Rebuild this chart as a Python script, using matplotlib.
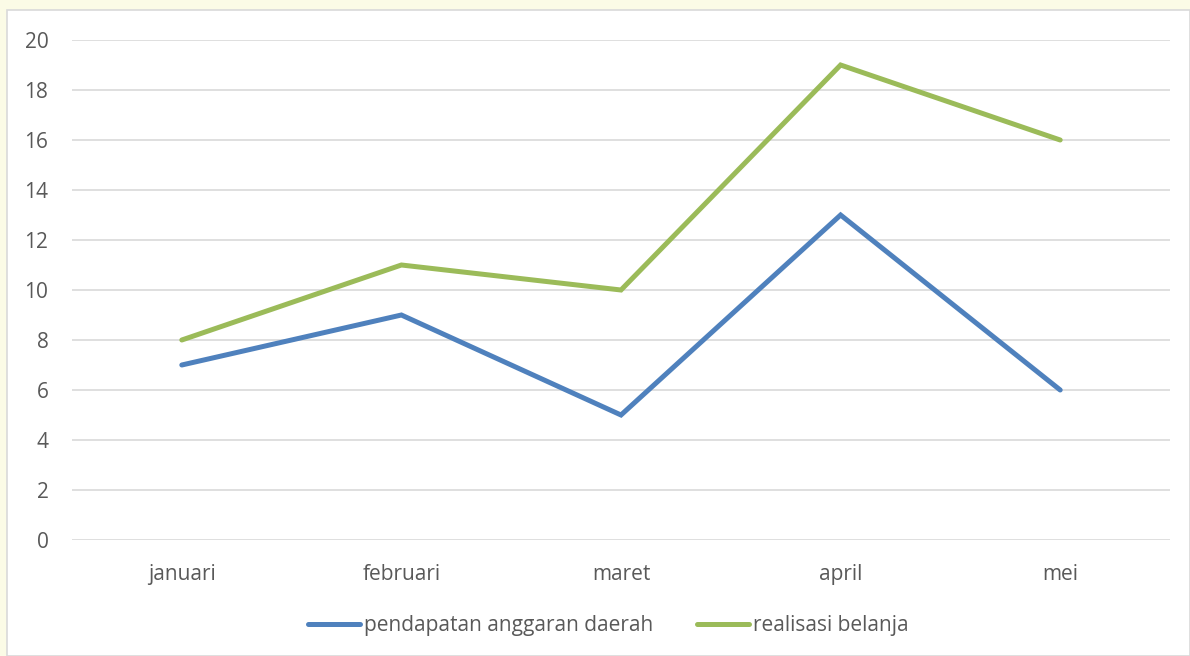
import matplotlib
matplotlib.use("Agg")
import matplotlib.pyplot as plt
from matplotlib.patches import Rectangle

months = ["januari", "februari", "maret", "april", "mei"]
pendapatan = [7, 9, 5, 13, 6]
realisasi = [8, 11, 10, 19, 16]
yticks = [0, 2, 4, 6, 8, 10, 12, 14, 16, 18, 20]

plt.rcParams['font.family'] = ['Open Sans', 'DejaVu Sans']

W, H = 1190, 656
FS = 15
fig = plt.figure(figsize=(W/100, H/100), dpi=100)
fig.patch.set_facecolor('#fbfbe6')

# chart area border
fig.patches.append(Rectangle((7/W, 0), 1 - 7/W, 1 - 10/H, transform=fig.transFigure,
                             facecolor='white', edgecolor='#d9d9d9', linewidth=1.2, zorder=-1))

ax = fig.add_axes([72/W, 1 - 540/H, (1170-72)/W, (540-40)/H])
ax.set_facecolor('none')
x = list(range(len(months)))
ax.plot(x, pendapatan, color='#4f81bd', lw=3.6, solid_capstyle='round', solid_joinstyle='miter',
        label='pendapatan anggaran daerah', zorder=3)
ax.plot(x, realisasi, color='#9bbb59', lw=3.6, solid_capstyle='round', solid_joinstyle='miter',
        label='realisasi belanja', zorder=3)

ax.set_xlim(-0.5, len(months) - 0.5)
ax.set_ylim(0, 20)
ax.set_yticks(yticks)
ax.set_xticks(x)
ax.set_xticklabels(months)
ax.grid(axis='y', color='#d9d9d9', lw=1.2)
ax.set_axisbelow(True)
for s in ax.spines.values():
    s.set_visible(False)
ax.tick_params(axis='both', length=0, labelsize=FS, colors='#595959')
ax.tick_params(axis='y', pad=17)
ax.tick_params(axis='x', pad=17)

leg = fig.legend(loc='center', bbox_to_anchor=(608.5/W, 1 - 626/H), ncol=2, frameon=False,
                 fontsize=FS, handlelength=2.5, handletextpad=0.2, columnspacing=2.1)
for t in leg.get_texts():
    t.set_color('#595959')

fig.savefig('out.png', dpi=100, facecolor=fig.get_facecolor())
